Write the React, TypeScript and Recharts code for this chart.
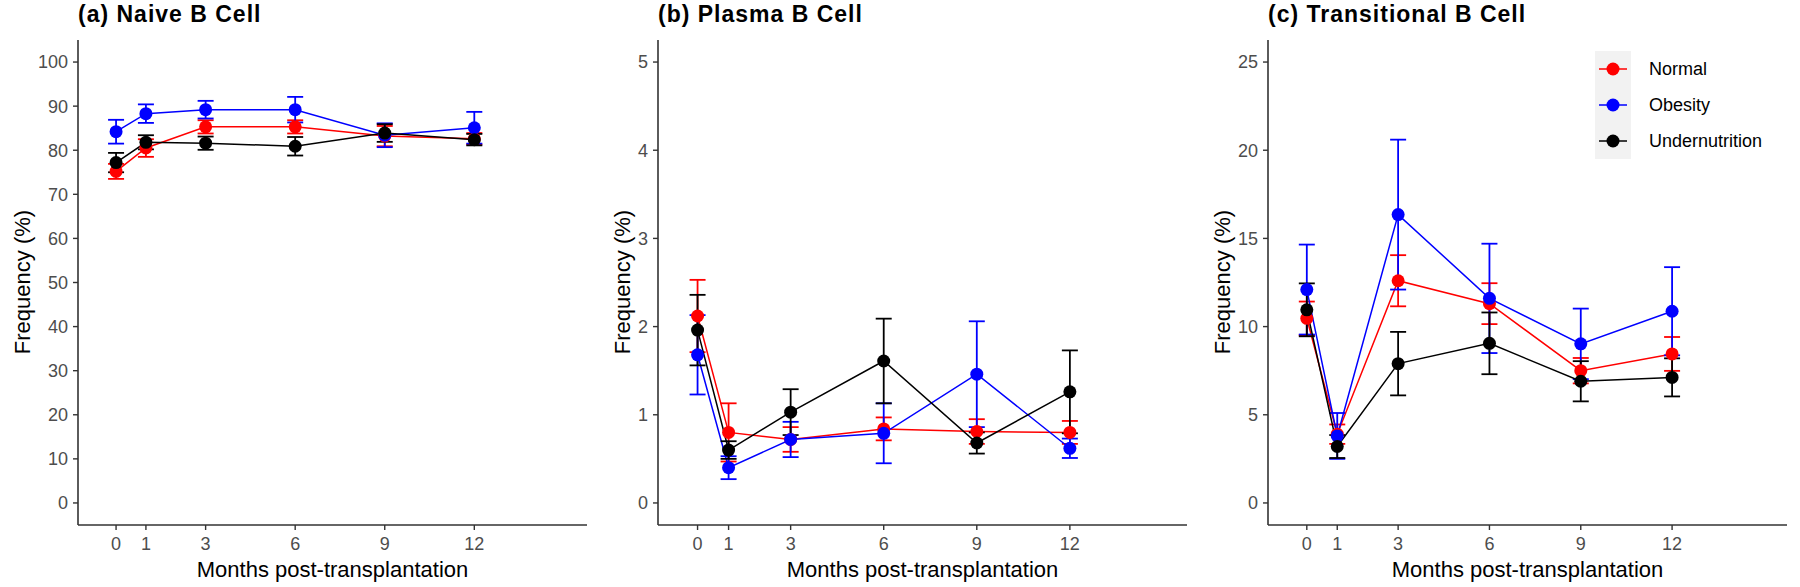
import React from "react";
import { LineChart, Line, XAxis, YAxis, ErrorBar, Legend, Label } from "recharts";

const FONT = "'Liberation Sans', Arial, sans-serif";

const MONTHS = [0, 1, 3, 6, 9, 12];
const GROUPS = ["Normal", "Obesity", "Undernutrition"];
const COLORS = ["#ff0000", "#0000ff", "#000000"];

// (a) naive B cells, mean and error per month
const NAIVE_NORMAL = [75.2, 80.5, 85.3, 85.3, 83.2, 82.6];
const NAIVE_NORMAL_ERR = [1.7, 2.0, 1.5, 1.5, 2.3, 1.3];
const NAIVE_OBESITY = [84.2, 88.3, 89.2, 89.2, 83.4, 85.1];
const NAIVE_OBESITY_ERR = [2.7, 2.1, 2.0, 2.9, 2.7, 3.6];
const NAIVE_UNDER = [77.2, 81.8, 81.6, 80.9, 83.9, 82.4];
const NAIVE_UNDER_ERR = [2.2, 1.6, 1.5, 2.1, 2.0, 1.3];

// (b) plasma B cells
const PLASMA_NORMAL = [2.12, 0.8, 0.72, 0.84, 0.81, 0.8];
const PLASMA_NORMAL_ERR = [0.41, 0.33, 0.14, 0.13, 0.14, 0.13];
const PLASMA_OBESITY = [1.68, 0.4, 0.72, 0.79, 1.46, 0.62];
const PLASMA_OBESITY_ERR = [0.45, 0.13, 0.2, 0.34, 0.6, 0.11];
const PLASMA_UNDER = [1.96, 0.6, 1.03, 1.61, 0.68, 1.26];
const PLASMA_UNDER_ERR = [0.4, 0.1, 0.26, 0.48, 0.12, 0.47];

// (c) transitional B cells
const TRANS_NORMAL = [10.47, 3.9, 12.6, 11.3, 7.5, 8.45];
const TRANS_NORMAL_ERR = [0.95, 0.55, 1.45, 1.16, 0.72, 0.96];
const TRANS_OBESITY = [12.1, 3.8, 16.35, 11.6, 9.02, 10.87];
const TRANS_OBESITY_ERR = [2.55, 1.3, 4.25, 3.1, 2.0, 2.5];
const TRANS_UNDER = [10.95, 3.2, 7.9, 9.05, 6.9, 7.12];
const TRANS_UNDER_ERR = [1.5, 0.65, 1.8, 1.75, 1.14, 1.08];

const NAIVE_TICKS = [0, 10, 20, 30, 40, 50, 60, 70, 80, 90, 100];
const PLASMA_TICKS = [0, 1, 2, 3, 4, 5];
const TRANS_TICKS = [0, 5, 10, 15, 20, 25];

function buildRows(series: number[][], errors: number[][]) {
  return MONTHS.map((m, i) => ({
    month: m,
    s0: series[0][i],
    e0: errors[0][i],
    s1: series[1][i],
    e1: errors[1][i],
    s2: series[2][i],
    e2: errors[2][i],
  }));
}

const naiveRows = buildRows(
  [NAIVE_NORMAL, NAIVE_OBESITY, NAIVE_UNDER],
  [NAIVE_NORMAL_ERR, NAIVE_OBESITY_ERR, NAIVE_UNDER_ERR]
);
const plasmaRows = buildRows(
  [PLASMA_NORMAL, PLASMA_OBESITY, PLASMA_UNDER],
  [PLASMA_NORMAL_ERR, PLASMA_OBESITY_ERR, PLASMA_UNDER_ERR]
);
const transRows = buildRows(
  [TRANS_NORMAL, TRANS_OBESITY, TRANS_UNDER],
  [TRANS_NORMAL_ERR, TRANS_OBESITY_ERR, TRANS_UNDER_ERR]
);

const renderLegend = (props: any) => {
  const items = props.payload || [];
  return (
    <div style={{ display: "flex", flexDirection: "column", fontFamily: FONT }}>
      {items.map((p: any) => (
        <div key={p.value} style={{ display: "flex", alignItems: "center", height: 36 }}>
          <div style={{ width: 36, height: 36, background: "#f2f2f2" }}>
            <svg width={36} height={36}>
              <line x1={4} x2={32} y1={18} y2={18} stroke={p.color} strokeWidth={1.5} />
              <circle cx={18} cy={18} r={6.5} fill={p.color} />
            </svg>
          </div>
          <span style={{ marginLeft: 18, fontSize: 18, color: "#000" }}>{p.value}</span>
        </div>
      ))}
    </div>
  );
};

type PanelProps = {
  title: string;
  rows: any[];
  yDomain: [number, number];
  yTicks: number[];
  yWidth: number;
  left: number;
  legend?: boolean;
};

function Panel({ title, rows, yDomain, yTicks, yWidth, left, legend }: PanelProps) {
  const plotLeft = yWidth;
  const plotRight = 587;
  return (
    <div style={{ position: "absolute", left, top: 0, width: 600, height: 587 }}>
      <div
        style={{
          position: "absolute",
          left: plotLeft,
          top: 3,
          fontSize: 23,
          lineHeight: "23px",
          fontWeight: "bold",
          letterSpacing: 1,
          whiteSpace: "nowrap",
          color: "#000",
        }}
      >
        {title}
      </div>
      <LineChart width={600} height={587} data={rows} margin={{ top: 40, right: 13, bottom: 0, left: 0 }}>
        <XAxis
          dataKey="month"
          type="number"
          domain={[-1.275, 15.775]}
          ticks={MONTHS}
          interval={0}
          allowDataOverflow
          height={62}
          tickSize={5}
          tickMargin={7}
          axisLine={{ stroke: "#333333", strokeWidth: 1.6 }}
          tickLine={{ stroke: "#333333", strokeWidth: 1.4 }}
          tick={{ fill: "#4d4d4d", fontSize: 18, fontFamily: FONT }}
        >
          <Label
            content={() => (
              <text
                x={(plotLeft + plotRight) / 2}
                y={577}
                textAnchor="middle"
                fontSize={22}
                fontFamily={FONT}
                fill="#000"
              >
                Months post-transplantation
              </text>
            )}
          />
        </XAxis>
        <YAxis
          type="number"
          domain={yDomain}
          ticks={yTicks}
          interval={0}
          allowDataOverflow
          width={yWidth}
          tickSize={5}
          tickMargin={5}
          axisLine={{ stroke: "#333333", strokeWidth: 1.6 }}
          tickLine={{ stroke: "#333333", strokeWidth: 1.4 }}
          tick={{ fill: "#4d4d4d", fontSize: 18, fontFamily: FONT }}
        >
          <Label
            content={() => (
              <text
                x={22}
                y={282}
                textAnchor="middle"
                dominantBaseline="central"
                transform="rotate(-90 22 282)"
                fontSize={22}
                fontFamily={FONT}
                fill="#000"
              >
                Frequency (%)
              </text>
            )}
          />
        </YAxis>
        {legend && (
          <Legend
            layout="vertical"
            align="center"
            verticalAlign="middle"
            content={renderLegend}
            wrapperStyle={{ left: 395, top: 51, width: 200 }}
          />
        )}
        {GROUPS.map((g, i) => (
          <Line
            key={g}
            name={g}
            dataKey={"s" + i}
            stroke={COLORS[i]}
            strokeWidth={1.5}
            dot={{ r: 6.5, fill: COLORS[i], stroke: COLORS[i], strokeWidth: 0 }}
            activeDot={false}
            isAnimationActive={false}
          >
            <ErrorBar
              dataKey={"e" + i}
              direction="y"
              width={8}
              stroke={COLORS[i]}
              strokeWidth={1.8}
              isAnimationActive={false}
            />
          </Line>
        ))}
      </LineChart>
    </div>
  );
}

export default function App() {
  return (
    <div
      style={{
        position: "absolute",
        left: 0,
        top: 0,
        width: 1800,
        height: 587,
        background: "#fff",
        fontFamily: FONT,
      }}
    >
      <Panel title="(a) Naive B Cell" rows={naiveRows} yDomain={[-5, 105]} yTicks={NAIVE_TICKS} yWidth={78} left={0} />
      <Panel title="(b) Plasma B Cell" rows={plasmaRows} yDomain={[-0.25, 5.25]} yTicks={PLASMA_TICKS} yWidth={58} left={600} />
      <Panel
        title="(c) Transitional B Cell"
        rows={transRows}
        yDomain={[-1.25, 26.25]}
        yTicks={TRANS_TICKS}
        yWidth={68}
        left={1200}
        legend
      />
    </div>
  );
}
